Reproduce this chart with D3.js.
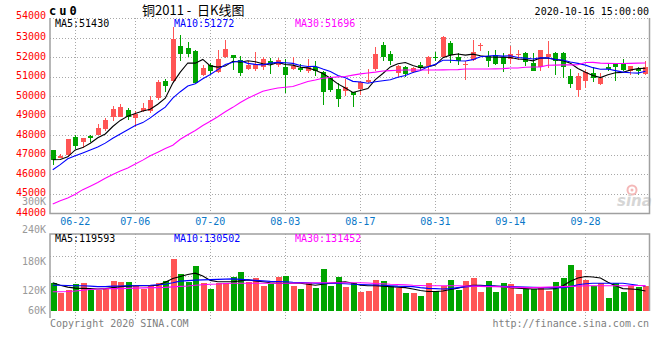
<!DOCTYPE html>
<html><head><meta charset="utf-8">
<script src="https://cdn.jsdelivr.net/npm/d3@7"></script>
<style>body{margin:0;background:#fff}svg{display:block}</style>
</head><body>
<svg id="chart" width="660" height="360"></svg>
<script>
const dates = ["06-17","06-18","06-19","06-22","06-23","06-24","06-29","06-30","07-01","07-02",
"07-03","07-06","07-07","07-08","07-09","07-10","07-13","07-14","07-15","07-16",
"07-17","07-20","07-21","07-22","07-23","07-24","07-27","07-28","07-29","07-30",
"07-31","08-03","08-04","08-05","08-06","08-07","08-10","08-11","08-12","08-13",
"08-14","08-17","08-18","08-19","08-20","08-21","08-24","08-25","08-26","08-27",
"08-28","08-31","09-01","09-02","09-03","09-04","09-07","09-08","09-09","09-10",
"09-11","09-14","09-15","09-16","09-17","09-18","09-21","09-22","09-23","09-24",
"09-25","09-28","09-29","09-30","10-09","10-12","10-13","10-14","10-15","10-16"];
const open = [47240,46860,46970,47910,47650,47940,48000,48320,48950,48950,
49290,48910,49260,49260,49910,50790,50800,52570,52460,52330,
51070,51580,51240,51990,52090,51850,51390,51410,51480,51820,
51610,51510,51400,51440,51270,51480,51220,50960,50380,50280,
50210,50380,50720,51410,52600,52160,51190,51480,51240,51610,
51530,51990,51990,52720,51990,51610,51870,52550,52040,52090,
51990,51920,52140,52210,51700,51480,51990,52210,52210,51020,
50330,50790,51190,50620,51490,51650,51660,51270,51410,51130];
const high = [47260,47060,47830,48030,47870,48000,48570,48880,49480,49620,
49390,49230,49630,50020,50830,50860,53540,53150,52770,52360,
51610,51700,52360,52870,52100,52040,51780,52260,51990,51950,
51950,51920,51990,51650,51920,51780,51270,51020,50670,50880,
50210,50790,51410,52500,52770,52330,51610,51560,51480,51750,
52040,52260,53060,52810,52210,51780,52870,52720,52290,52350,
52210,52550,52350,52260,52210,52380,52840,52260,52260,51410,
51190,51360,51480,51190,51660,51700,51920,51560,51480,51820];
const low = [46460,46830,46900,47310,47350,47650,47990,48230,48750,48920,
48800,48430,49190,49140,49820,50210,50750,51820,52020,50650,
51030,51130,51180,51960,51340,51020,51360,51300,51360,51130,
51500,50180,51360,51220,51190,51020,49530,50210,49430,49990,
49460,50040,50670,51300,51780,51580,50960,50960,51190,51300,
51130,51820,51950,51700,51610,50840,51780,52290,51480,51610,
51220,51650,51870,51530,51270,51310,51440,51100,50930,50420,
49960,50420,50720,50590,51270,50790,51270,51100,51070,51100];
const close = [46750,46960,47820,47450,47860,47860,48370,48800,49360,49430,
48930,49080,49400,49820,50720,50500,52930,52170,52180,50690,
51440,51270,51880,52400,51950,51190,51610,51650,51880,51650,
51850,51060,51530,51320,51480,51270,50210,50320,49870,50450,
50080,50720,50840,52160,51990,51780,51530,51130,51440,51440,
51990,51950,53010,52090,51780,51650,52240,52600,51820,51660,
51660,52160,52180,51730,51310,52350,52160,51780,51480,50640,
51020,51240,50930,50930,51390,51490,51360,51530,51270,51480];
const ma5 = [46750,46760,46900,47250,47370,47590,47870,48070,48450,48760,
48980,49120,49240,49330,49590,49900,50670,51230,51700,51690,
51880,51550,51490,51540,51790,51740,51810,51760,51660,51600,
51730,51620,51590,51480,51450,51330,51160,50920,50630,50420,
50190,50290,50390,50850,51160,51500,51660,51720,51570,51460,
51510,51590,51970,52100,52160,52100,52150,52070,52020,51990,
52000,51980,51900,51880,51810,51950,51950,51870,51820,51680,
51420,51230,51060,50950,51100,51200,51220,51340,51410,51430];
const ma10 = [46240,46500,46800,46950,47100,47250,47400,47600,47850,48070,
48280,48500,48650,48890,49180,49440,49900,50230,50520,50640,
50890,51110,51360,51620,51740,51810,51680,51630,51600,51690,
51730,51710,51680,51570,51520,51530,51390,51260,51060,50940,
50760,50730,50660,50740,50790,50840,50970,51060,51210,51310,
51500,51630,51840,51840,51810,51800,51870,52020,52060,52080,
52050,52070,51980,51950,51900,51970,51960,51880,51850,51750,
51680,51590,51460,51380,51390,51310,51230,51200,51180,51272];
const ma30 = [44490,44650,44790,44980,45220,45400,45590,45800,46000,46170,
46330,46530,46730,46950,47130,47320,47490,47800,48030,48250,
48500,48720,48950,49200,49430,49680,49900,50070,50250,50340,
50420,50460,50500,50620,50750,50830,50920,50960,50990,51010,
51080,51140,51190,51230,51290,51310,51330,51340,51340,51340,
51340,51340,51345,51350,51360,51390,51390,51390,51395,51400,
51410,51440,51445,51480,51490,51500,51580,51590,51600,51600,
51610,51720,51730,51690,51680,51670,51670,51680,51690,51696];
const volume = [135900,116500,121400,134500,136600,122100,122100,124100,140700,138600,
138600,131000,124100,129700,136600,140700,186200,155200,139200,171700,
136600,124100,135900,135900,149000,159300,139200,147500,130300,134500,
149600,151000,130300,124100,135900,126800,165500,131000,149600,128900,
135900,118600,120600,143400,140700,131000,126800,116500,116500,110300,
137200,120000,131000,142800,122100,141300,147500,118600,140700,118600,
136600,134500,114400,124100,124100,128900,120000,138600,147500,173800,
163400,142800,131000,136600,106100,135900,118600,130300,128900,130300];
const volMa5 = [137000,132000,128000,126000,125500,125000,124000,125000,127000,129000,
130000,131000,131000,131000,132000,138000,146000,150000,154000,157000,
151000,142000,139000,139000,139000,141000,143000,141000,139000,137000,
136000,136000,136000,136000,134000,132000,134000,136000,138000,139000,
136000,132000,131000,131000,130000,129000,128000,127000,124000,121000,
119000,119000,120000,123000,126000,130000,132000,132000,131000,130000,
129000,127000,126000,125000,124000,124000,124000,125000,131000,140000,
147000,150000,149000,147000,138000,131000,125000,124000,123000,120000];
const volMa10 = [132000,132000,131500,131000,131000,130000,129000,129000,130000,130500,
131000,131000,131500,132000,133000,134000,137000,140500,141500,142500,
143000,143500,144000,144500,145000,144000,143000,142000,141000,140000,
139500,139000,138000,137500,137000,136000,136000,136000,135500,135000,
134000,133500,133000,132500,132000,131000,130000,129500,129000,127000,
125500,125000,124000,125000,127000,128500,130000,130500,131000,130000,
129500,129000,128500,128000,127500,127000,127000,127000,127000,129000,
133000,135000,136000,136000,136000,136000,136000,134000,132000,130500];
const volMa30 = [118500,118500,119000,120000,121500,123000,124000,124500,125000,125000,
125500,126000,126500,127000,127000,127500,128500,129500,130500,132000,
133000,134000,134500,135500,136000,136000,136000,136000,136000,136000,
136000,136000,136000,136500,136500,137000,137000,137000,137000,137000,
137000,137000,136500,135500,135000,134000,133500,133000,132000,131500,
131000,131000,131000,131000,131000,130500,130000,129500,129000,129000,
128500,128000,127500,127000,127000,127500,128000,128500,129000,129500,
130000,131000,131000,131000,131000,131000,131000,131000,131500,131500];
const priceTicks = [54000,53000,52000,51000,50000,49000,48000,47000,46000,45000,44000];
const volTicks = [240000,180000,120000,60000];
const dateTicks = ["06-22","07-06","07-20","08-03","08-17","08-31","09-14","09-28"];
const priceLegend = ["MA5:51430","MA10:51272","MA30:51696"];
const volLegend = ["MA5:119593","MA10:130502","MA30:131452"];
const volMaxLabel = "300K";
const titleCode = "cu0";
const titleName = "铜2011 -  日K线图";
const stamp = "2020-10-16 15:00:00";
const footLeft = "Copyright 2020 SINA.COM";
const footRight = "http://finance.sina.com.cn";

const MONO = "'DejaVu Sans Mono', monospace";
const RED = "#ff5555", GREEN = "#00a400";
const lineColors = ["#000000", "#0000ff", "#ff00ff"];
const svg = d3.select("#chart");
const L = 50, R = 649.5, T = 18, B = 213.5, VT = 234, VB = 311, VBottomFrame = 318;

const x = d3.scaleBand().domain(dates).range([49, 649.2]).padding(0);
const cx = d => x(d) + x.bandwidth() / 2;
const y = d3.scaleLinear().domain([44000, 54000]).range([B, T]);
const yv = d3.scaleLinear().domain([60000, 240000]).range([320, 233]);

// grids
const grid = svg.append("g").attr("stroke", "#a8a8a8").attr("stroke-dasharray", "1,2").attr("shape-rendering", "crispEdges");
priceTicks.filter(v => v !== 44000).forEach(v => {
  grid.append("line").attr("x1", L).attr("x2", R).attr("y1", Math.round(y(v)) + 0.5).attr("y2", Math.round(y(v)) + 0.5);
});
dateTicks.forEach(d => {
  const xx = Math.round(cx(d)) + 0.5;
  grid.append("line").attr("x1", xx).attr("x2", xx).attr("y1", T).attr("y2", B);
  grid.append("line").attr("x1", xx).attr("x2", xx).attr("y1", VT).attr("y2", VBottomFrame + 2);
});
[0.26, 0.5].forEach(f => {
  const yy = Math.round(VT + (VBottomFrame - VT) * f) + 0.5;
  grid.append("line").attr("x1", L).attr("x2", R).attr("y1", yy).attr("y2", yy);
});

// watermark
const wm = svg.append("g");
wm.append("circle").attr("cx", 632).attr("cy", 190).attr("r", 4.5).attr("fill", "none").attr("stroke", "#f4b8b8").attr("stroke-width", 2);
wm.append("circle").attr("cx", 632).attr("cy", 190).attr("r", 1.5).attr("fill", "#f4b8b8");
wm.append("text").attr("x", 617).attr("y", 206).attr("font-family", "'DejaVu Sans', sans-serif")
  .attr("font-size", 15).attr("font-weight", "bold").attr("font-style", "italic").attr("fill", "#d6d6d6").text("sina");

// candles
const color = i => close[i] >= open[i] ? RED : GREEN;
const cg = svg.append("g").attr("shape-rendering", "crispEdges");
dates.forEach((d, i) => {
  const xc = Math.round(cx(d));
  cg.append("line").attr("x1", xc + 0.5).attr("x2", xc + 0.5).attr("y1", y(high[i])).attr("y2", y(low[i]))
    .attr("stroke", color(i)).attr("stroke-width", 1);
  const top = y(Math.max(open[i], close[i])), bot = y(Math.min(open[i], close[i]));
  cg.append("rect").attr("x", xc - 2).attr("width", 5).attr("y", top).attr("height", Math.max(1, bot - top)).attr("fill", color(i));
});

// price MA lines
const lineP = d3.line().x((v, i) => cx(dates[i])).y(v => y(v));
[ma5, ma10, ma30].forEach((arr, k) => {
  svg.append("path").attr("d", lineP(arr)).attr("fill", "none").attr("stroke", lineColors[k]).attr("stroke-width", 1.1);
});

// volume bars
const vg = svg.append("g").attr("shape-rendering", "crispEdges");
dates.forEach((d, i) => {
  const xc = Math.round(cx(d));
  const top = yv(volume[i]);
  vg.append("rect").attr("x", xc - 2.5).attr("width", 6).attr("y", top).attr("height", VB - top).attr("fill", color(i));
});
const lineV = d3.line().x((v, i) => cx(dates[i])).y(v => yv(v));
[volMa5, volMa10, volMa30].forEach((arr, k) => {
  svg.append("path").attr("d", lineV(arr)).attr("fill", "none").attr("stroke", lineColors[k]).attr("stroke-width", 1.1);
});

// frames
const fr = svg.append("g").attr("stroke", "#a0a0a0").attr("stroke-width", 1.5).attr("fill", "none");
fr.append("path").attr("d", `M${L},${T}V${B}H${R}V${T}`);
fr.append("path").attr("d", `M${L},${VBottomFrame}V${VT}H${R}V${VB}`);

// axes
const ay = svg.append("g").attr("transform", `translate(${L},0)`)
  .call(d3.axisLeft(y).tickValues(priceTicks).tickSize(0).tickPadding(4).tickFormat(d3.format("d")));
ay.select(".domain").remove();
ay.selectAll("text").attr("fill", "#ff0000").attr("font-family", MONO).attr("font-size", 10)
  .attr("dy", (d, i) => i === 0 ? "0.05em" : "0.2em");

const av = svg.append("g").attr("transform", `translate(${L},0)`)
  .call(d3.axisLeft(yv).tickValues(volTicks).tickSize(0).tickPadding(4).tickFormat(d => d / 1000 + "K"));
av.select(".domain").remove();
av.selectAll(".tick").attr("transform", d => `translate(0,${Math.min(yv(d), VB)})`);
av.selectAll("text").attr("fill", "#999").attr("font-family", MONO).attr("font-size", 10)
  .attr("dy", (d, i) => i === 0 ? "0.03em" : "0.25em");

svg.append("text").attr("x", 46).attr("y", 204.5).attr("text-anchor", "end").attr("fill", "#999")
  .attr("font-family", MONO).attr("font-size", 10).text(volMaxLabel);

const ax = svg.append("g").attr("transform", `translate(0,${B})`)
  .call(d3.axisBottom(x).tickValues(dateTicks).tickSize(0).tickPadding(4));
ax.select(".domain").remove();
ax.selectAll("text").attr("fill", "#0a78c8").attr("font-family", MONO).attr("font-size", 10).attr("dy", "0.71em");

// legends
const legX = [55, 174, 295];
priceLegend.forEach((t, k) => svg.append("text").attr("x", legX[k]).attr("y", 27).attr("fill", lineColors[k])
  .attr("font-family", MONO).attr("font-size", 10).text(t));
volLegend.forEach((t, k) => svg.append("text").attr("x", legX[k]).attr("y", 242).attr("fill", lineColors[k])
  .attr("font-family", MONO).attr("font-size", 10).text(t));

// header
svg.append("text").attr("x", 49).attr("y", 15).attr("font-family", MONO).attr("font-size", 12)
  .attr("font-weight", "bold").attr("letter-spacing", 3).attr("fill", "#000").text(titleCode);
svg.append("text").attr("x", 142).attr("y", 15).attr("font-family", "'Noto Sans CJK SC', sans-serif")
  .attr("font-size", 13).attr("fill", "#000").style("white-space", "pre").text(titleName);
svg.append("text").attr("x", 649).attr("y", 15).attr("text-anchor", "end").attr("font-family", MONO)
  .attr("font-size", 10).attr("fill", "#000").text(stamp);

// footer
svg.append("text").attr("x", 50).attr("y", 327).attr("font-family", MONO).attr("font-size", 10)
  .attr("fill", "#808080").text(footLeft);
svg.append("text").attr("x", 649).attr("y", 327).attr("text-anchor", "end").attr("font-family", MONO)
  .attr("font-size", 10).attr("fill", "#808080").text(footRight);
</script>
</body></html>
